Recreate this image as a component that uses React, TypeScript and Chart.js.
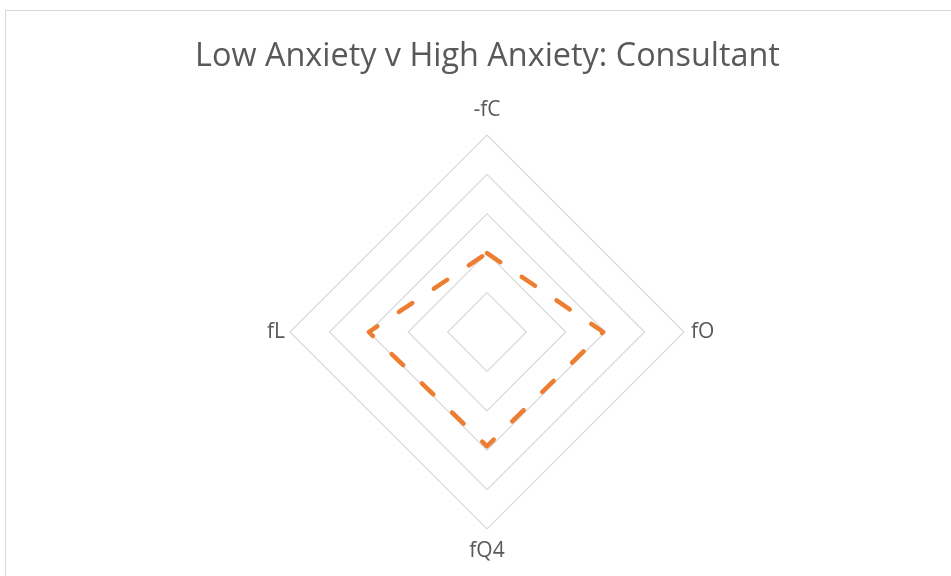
import React, { useEffect, useRef } from "react";
import { Chart, registerables } from "chart.js";

Chart.register(...registerables);

const titleText = "Low Anxiety v High Anxiety: Consultant";
const categories = ["-fC", "fO", "fQ4", "fL"];
const seriesName = "High Anxiety";
const seriesValues = [2.0, 2.95, 2.9, 3.0];
const scaleMin = 0;
const scaleMax = 5;
const scaleStep = 1;

const labelPads = [12, 7, 9.5, 5];

export default function App() {
  const ref = useRef<HTMLCanvasElement | null>(null);

  useEffect(() => {
    if (!ref.current) return;
    const chart = new Chart(ref.current, {
      type: "radar",
      data: {
        labels: categories,
        datasets: [
          {
            label: seriesName,
            data: seriesValues,
            borderColor: "#ED7D31",
            backgroundColor: "rgba(0,0,0,0)",
            borderWidth: 4.5,
            borderDash: [16, 26],
            borderCapStyle: "round",
            borderJoinStyle: "round",
            pointRadius: 0,
            pointHoverRadius: 0,
            fill: false,
          },
        ],
      },
      options: {
        animation: false,
        responsive: false,
        maintainAspectRatio: false,
        layout: { padding: { left: 24, right: 0, top: 0, bottom: 10.8 } },
        plugins: {
          legend: { display: false },
          tooltip: { enabled: false },
          title: {
            display: true,
            text: titleText,
            color: "#595959",
            font: { family: "'Open Sans', sans-serif", size: 32.4, weight: "normal", lineHeight: 1.2 },
            padding: { top: 37.56, bottom: 20.36 },
          },
        },
        scales: {
          r: {
            min: scaleMin,
            max: scaleMax,
            ticks: { display: false, stepSize: scaleStep },
            angleLines: { display: false },
            grid: { circular: false, color: "#d9d9d9", lineWidth: 1.2 },
            pointLabels: {
              color: "#595959",
              font: { family: "'Open Sans', sans-serif", size: 21, lineHeight: 1.2 },
              padding: (ctx: any) => labelPads[ctx.index] ?? 8,
            },
          },
        },
      },
    });
    return () => chart.destroy();
  }, []);

  return (
    <div style={{ position: "absolute", left: 0, top: 0, width: 951, height: 576, overflow: "hidden", background: "#fff" }}>
      <div
        style={{
          position: "absolute",
          left: 5,
          top: 10,
          width: 1000,
          height: 700,
          border: "1px solid #d9d9d9",
          boxSizing: "border-box",
        }}
      />
      <canvas ref={ref} width={951} height={576} style={{ position: "absolute", left: 0, top: 0 }} />
    </div>
  );
}
